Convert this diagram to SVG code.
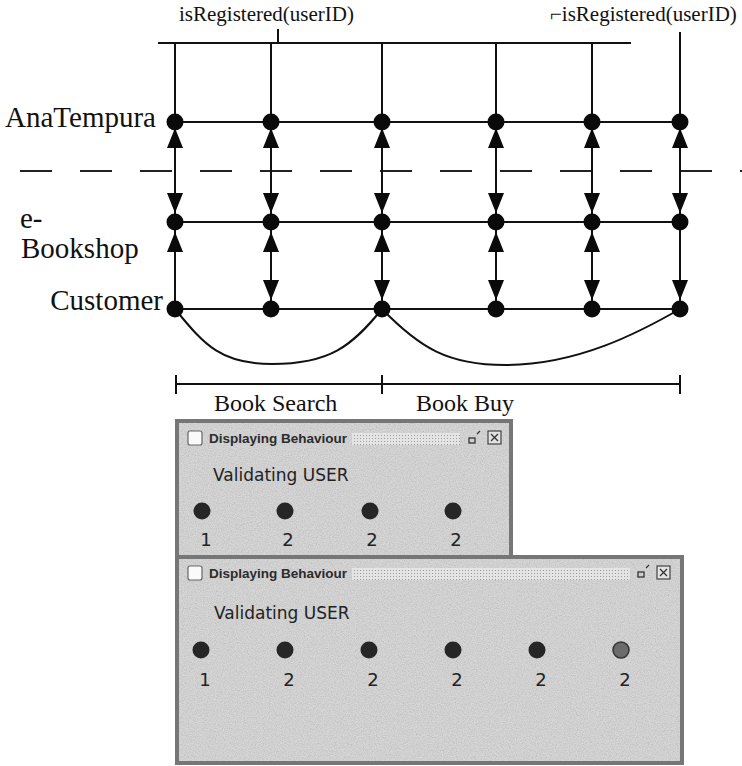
<svg xmlns="http://www.w3.org/2000/svg" width="742" height="766" viewBox="0 0 742 766">
  <style>
    .ln { stroke: #111; stroke-width: 2; fill: none; }
    .dash { stroke: #222; stroke-width: 1.8; stroke-dasharray: 32 28; fill: none; }
    .dot { fill: #0a0a0a; }
    .ah { fill: #0a0a0a; }
    .serif { font-family: "Liberation Serif", "Times New Roman", serif; fill: #111; }
    .lane { font-size: 29px; }
    .cond { font-size: 21px; }
    .phase { font-size: 24px; }
    .wframe { fill: #767676; }
    .wbody { fill: #d7d7d7; }
    .wtitle { font-family: "Liberation Sans", Arial, sans-serif; font-weight: bold; font-size: 13.5px; fill: #2b2b2b; }
    .wtext { font-family: "DejaVu Sans", Verdana, sans-serif; font-size: 17px; fill: #222; }
    .wnum { font-family: "DejaVu Sans", Verdana, sans-serif; font-size: 18px; fill: #222; text-anchor: middle; }
    .led { fill: #262626; }
    .led-dim { fill: #6b6b6b; stroke: #333; stroke-width: 1.5; }
    .chk { fill: #fafafa; stroke: #666; stroke-width: 1.2; }
    .btn { fill: #e2e2e2; stroke: #444; stroke-width: 1.2; }
    .ico { stroke: #333; stroke-width: 1.3; fill: none; }
  </style>
  <defs>
    <!-- arrowheads: tip at origin, pointing up / down -->
    <path id="up" class="ah" d="M0,0 L8,20 L-8,20 Z"/>
    <path id="down" class="ah" d="M0,0 L8,-20 L-8,-20 Z"/>
    <pattern id="strip" width="3" height="3" patternUnits="userSpaceOnUse">
      <rect width="3" height="3" fill="#e4e4e4"/>
      <rect width="1" height="1" fill="#9c9c9c"/>
    </pattern>
    <filter id="grain" x="0" y="0" width="100%" height="100%">
      <feTurbulence type="fractalNoise" baseFrequency="0.85" numOctaves="2" seed="7" result="n"/>
      <feColorMatrix in="n" type="matrix" values="0 0 0 0 0.35  0 0 0 0 0.35  0 0 0 0 0.35  0.9 0 0 0 -0.3" result="g"/>
      <feComposite in="g" in2="SourceGraphic" operator="in" result="gc"/>
      <feMerge><feMergeNode in="SourceGraphic"/><feMergeNode in="gc"/></feMerge>
    </filter>
  </defs>

  <rect width="742" height="766" fill="#fff"/>

  <!-- condition labels -->
  <g id="cond-registered">
    <text class="serif cond" x="179" y="21">isRegistered(userID)</text>
    <path class="ln" d="M278,29 V43"/>
  </g>
  <g id="cond-not-registered">
    <text class="serif cond" x="550" y="21">⌐isRegistered(userID)</text>
  </g>

  <!-- lane names -->
  <g id="lane-anatempura"><text class="serif lane" x="5" y="127">AnaTempura</text></g>
  <g id="lane-ebookshop">
    <text class="serif lane" x="20" y="228">e-</text>
    <text class="serif lane" x="21" y="258">Bookshop</text>
  </g>
  <g id="lane-customer"><text class="serif lane" x="163" y="310" text-anchor="end">Customer</text></g>

  <!-- boundary between monitor and system -->
  <path class="dash" d="M20,171 H742"/>

  <g id="connectors">
    <!-- condition bus -->
    <path class="ln" d="M158,43 H631"/>
    <!-- vertical message lines -->
    <path class="ln" d="M175,43 V309 M271,43 V309 M382,43 V309 M496,43 V309 M592,43 V309 M680,32 V309"/>
    <!-- lane lines -->
    <path class="ln" d="M175,122 H680 M175,222 H680 M175,309 H680"/>
    <!-- session loops on the customer lane -->
    <path class="ln" d="M175,309 C205,346 222,364 272,364 C330,364 352,346 382,309"/>
    <path class="ln" d="M382,309 C420,348 448,365 505,365 C578,365 640,332 680,309"/>
    <!-- arrowheads AnaTempura <-> e-Bookshop -->
    <use href="#up" x="175" y="128"/><use href="#down" x="175" y="213"/>
    <use href="#up" x="271" y="128"/><use href="#down" x="271" y="213"/>
    <use href="#up" x="382" y="128"/><use href="#down" x="382" y="213"/>
    <use href="#up" x="496" y="128"/><use href="#down" x="496" y="213"/>
    <use href="#up" x="592" y="128"/><use href="#down" x="592" y="213"/>
    <use href="#up" x="680" y="128"/><use href="#down" x="680" y="213"/>
    <!-- arrowheads e-Bookshop <-> Customer -->
    <use href="#up" x="175" y="232"/>
    <use href="#up" x="271" y="232"/><use href="#down" x="271" y="300"/>
    <use href="#up" x="382" y="232"/><use href="#down" x="382" y="300"/>
    <use href="#up" x="496" y="232"/><use href="#down" x="496" y="300"/>
    <use href="#up" x="592" y="232"/><use href="#down" x="592" y="300"/>
    <use href="#down" x="680" y="300"/>
  </g>

  <!-- events on each lane -->
  <g id="events">
    <circle class="dot" cx="175" cy="122" r="8.5"/><circle class="dot" cx="271" cy="122" r="8.5"/>
    <circle class="dot" cx="382" cy="122" r="8.5"/><circle class="dot" cx="496" cy="122" r="8.5"/>
    <circle class="dot" cx="592" cy="122" r="8.5"/><circle class="dot" cx="680" cy="122" r="8.5"/>
    <circle class="dot" cx="175" cy="222" r="8.5"/><circle class="dot" cx="271" cy="222" r="8.5"/>
    <circle class="dot" cx="382" cy="222" r="8.5"/><circle class="dot" cx="496" cy="222" r="8.5"/>
    <circle class="dot" cx="592" cy="222" r="8.5"/><circle class="dot" cx="680" cy="222" r="8.5"/>
    <circle class="dot" cx="175" cy="309" r="8.5"/><circle class="dot" cx="271" cy="309" r="8.5"/>
    <circle class="dot" cx="382" cy="309" r="8.5"/><circle class="dot" cx="496" cy="309" r="8.5"/>
    <circle class="dot" cx="592" cy="309" r="8.5"/><circle class="dot" cx="680" cy="309" r="8.5"/>
  </g>

  <!-- phases -->
  <g id="phases">
    <path class="ln" d="M176,384 H680 M176,375 V394 M382,375 V394 M680,375 V394"/>
    <text class="serif phase" x="214" y="411">Book Search</text>
    <text class="serif phase" x="416" y="411">Book Buy</text>
  </g>

  <!-- first behaviour window -->
  <g id="window-search">
    <rect class="wframe" x="175" y="419" width="338" height="141"/>
    <rect class="wbody" x="179" y="423" width="330" height="137" filter="url(#grain)"/>
    <rect class="chk" x="188" y="431" width="14" height="14" rx="2"/>
    <text class="wtitle" x="209" y="443">Displaying Behaviour</text>
    <rect x="352" y="433" width="108" height="12" fill="url(#strip)"/>
    <rect class="ico" x="469" y="438" width="6" height="5"/>
    <path class="ico" d="M477,434 L480,431"/>
    <rect class="btn" x="488" y="431" width="13" height="13"/>
    <path class="ico" d="M491,434 L494.5,437.5 L491,441 M498,434 L494.5,437.5 L498,441"/>
    <text class="wtext" x="213" y="481">Validating USER</text>
    <circle class="led" cx="202" cy="511" r="8.5"/>
    <circle class="led" cx="285" cy="511" r="8.5"/>
    <circle class="led" cx="370" cy="511" r="8.5"/>
    <circle class="led" cx="453" cy="511" r="8.5"/>
    <text class="wnum" x="206" y="546">1</text>
    <text class="wnum" x="288" y="546">2</text>
    <text class="wnum" x="372" y="546">2</text>
    <text class="wnum" x="456" y="546">2</text>
  </g>

  <!-- second behaviour window -->
  <g id="window-buy">
    <rect class="wframe" x="175" y="555" width="509" height="210"/>
    <rect class="wbody" x="179" y="559" width="501" height="202" filter="url(#grain)"/>
    <rect class="chk" x="188" y="566" width="14" height="14" rx="2"/>
    <text class="wtitle" x="209" y="578">Displaying Behaviour</text>
    <rect x="352" y="568" width="278" height="12" fill="url(#strip)"/>
    <rect class="ico" x="638" y="572" width="6" height="5"/>
    <path class="ico" d="M646,568 L649,565"/>
    <rect class="btn" x="657" y="566" width="13" height="13"/>
    <path class="ico" d="M660,569 L663.5,572.5 L660,576 M667,569 L663.5,572.5 L667,576"/>
    <text class="wtext" x="214" y="619">Validating USER</text>
    <circle class="led" cx="201" cy="650" r="8.5"/>
    <circle class="led" cx="285" cy="650" r="8.5"/>
    <circle class="led" cx="369" cy="650" r="8.5"/>
    <circle class="led" cx="453" cy="650" r="8.5"/>
    <circle class="led" cx="537" cy="650" r="8.5"/>
    <circle class="led-dim" cx="621" cy="650" r="8"/>
    <text class="wnum" x="205" y="686">1</text>
    <text class="wnum" x="289" y="686">2</text>
    <text class="wnum" x="373" y="686">2</text>
    <text class="wnum" x="457" y="686">2</text>
    <text class="wnum" x="541" y="686">2</text>
    <text class="wnum" x="625" y="686">2</text>
  </g>
</svg>
